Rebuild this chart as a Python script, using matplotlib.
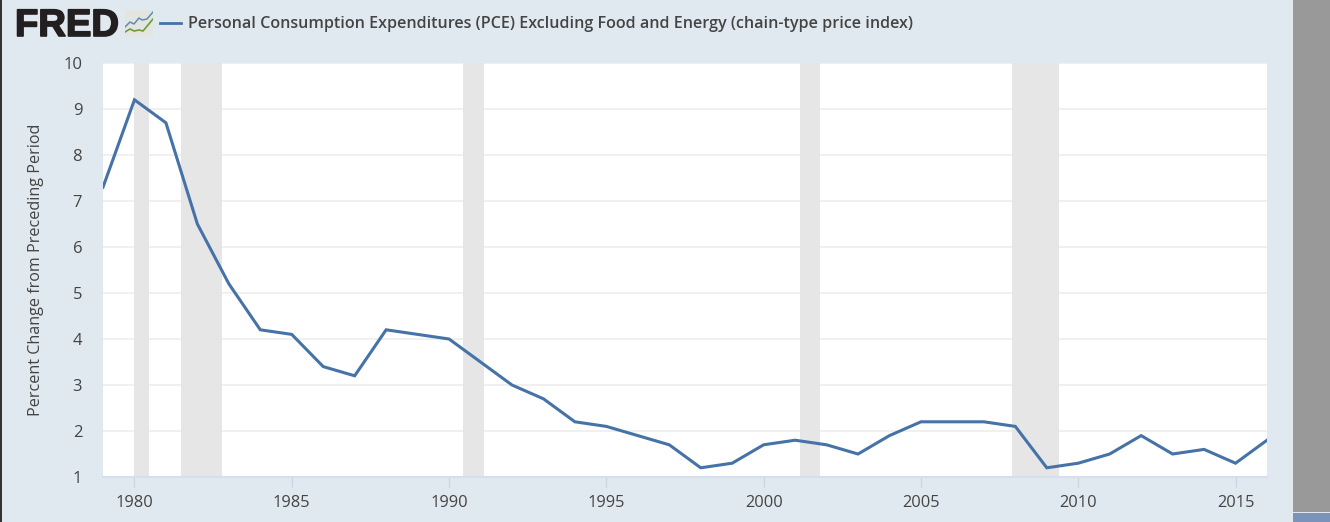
import matplotlib
matplotlib.use('Agg')
import matplotlib.pyplot as plt
import matplotlib.patheffects as pe
from matplotlib.patches import Rectangle

plt.rcParams['font.family'] = ['Open Sans', 'DejaVu Sans']

years = list(range(1979, 2017))
pce = [7.3, 9.2, 8.7, 6.5, 5.2, 4.2, 4.1, 3.4, 3.2, 4.2,
       4.1, 4.0, 3.5, 3.0, 2.7, 2.2, 2.1, 1.9, 1.7, 1.2,
       1.3, 1.7, 1.8, 1.7, 1.5, 1.9, 2.2, 2.2, 2.2, 2.1,
       1.2, 1.3, 1.5, 1.9, 1.5, 1.6, 1.3, 1.8]
recessions = [(1980.0, 1980.45), (1981.47, 1982.77), (1990.45, 1991.12),
              (2001.15, 2001.8), (2007.9, 2009.4)]
yticks = list(range(1, 11))
xticks = list(range(1980, 2016, 5))
title = 'Personal Consumption Expenditures (PCE) Excluding Food and Energy (chain-type price index)'
ylabel = 'Percent Change from Preceding Period'

W, H = 1330, 522
bg = '#e1e9f0'
blue = '#4572a7'
text_col = '#444444'

fig = plt.figure(figsize=(W / 100, H / 100), dpi=100, facecolor=bg)

# pixel box helper
def box(x0, y0, x1, y1):
    return [x0 / W, 1 - y1 / H, (x1 - x0) / W, (y1 - y0) / H]

ax = fig.add_axes(box(103, 63, 1267, 477))
ax.set_facecolor('white')
ax.set_xlim(1979, 2016)
ax.set_ylim(1, 10)
for start, end in recessions:
    ax.axvspan(start, end, color='#e6e6e6', lw=0, zorder=1.5)
ax.grid(axis='y', color='#eeeeee', lw=1.2, zorder=1)
ax.set_axisbelow(True)
ax.plot(years, pce, color=blue, lw=2.2, zorder=3, clip_on=True, solid_joinstyle='miter')
ax.set_yticks(yticks)
ax.set_xticks(xticks)
ax.tick_params(axis='y', length=0, pad=15, labelsize=12, labelcolor=text_col)
ax.tick_params(axis='x', length=7, width=1, color='#c8d7e6', pad=6, labelsize=11.8, labelcolor=text_col)
for s in ['top', 'left', 'right']:
    ax.spines[s].set_visible(False)
ax.spines['bottom'].set_color('#d5dfee')
ax.spines['bottom'].set_linewidth(1.5)
ax.set_ylabel(ylabel, fontsize=11.6, color=text_col)
ax.yaxis.set_label_coords((44 - 103) / 1164, 0.5)

# header
fig.text(15 / W, 1 - 36 / H, 'FRED', fontsize=27.5, fontweight='bold', color='#231f20',
         family=['Liberation Sans', 'DejaVu Sans'], va='baseline',
         path_effects=[pe.withStroke(linewidth=1.2, foreground='#231f20')])
fig.text(188 / W, 1 - 24 / H, title, fontsize=11.6, fontweight='semibold', color=text_col, va='center')

# logo icon, with legend key next to it
icon = fig.add_axes(box(125, 10, 153, 37))
icon.set_facecolor('#e4e8e0')
icon.set_xlim(0, 28)
icon.set_ylim(27, 0)
icon.axis('off')
icon.add_patch(Rectangle((0, 0), 28, 27, color='#e3e6e0', lw=0))
icon.plot([0, 5, 9, 14, 17, 22, 28], [17, 12, 14, 8, 10, 9, 2], color='#5f8cb0', lw=1.1)
icon.plot([0, 5, 9, 14, 18, 23, 28], [22, 19, 21, 20, 21, 15, 9], color='#6f9a3c', lw=1.2)

fig.add_artist(plt.Line2D([160 / W, 181 / W], [1 - 22.5 / H] * 2, color=blue, lw=2))

# page edges around the chart
fig.add_artist(Rectangle((1293 / W, 10 / H), 37 / W, 512 / H, color='#999999', lw=0))
fig.add_artist(Rectangle((1293 / W, 0), 37 / W, 9 / H, color='#7c93b9', lw=0))
fig.add_artist(Rectangle((0, 0), 1.5 / W, 1, color='#333333', lw=0))

fig.savefig('out.png', dpi=100, facecolor=bg)
